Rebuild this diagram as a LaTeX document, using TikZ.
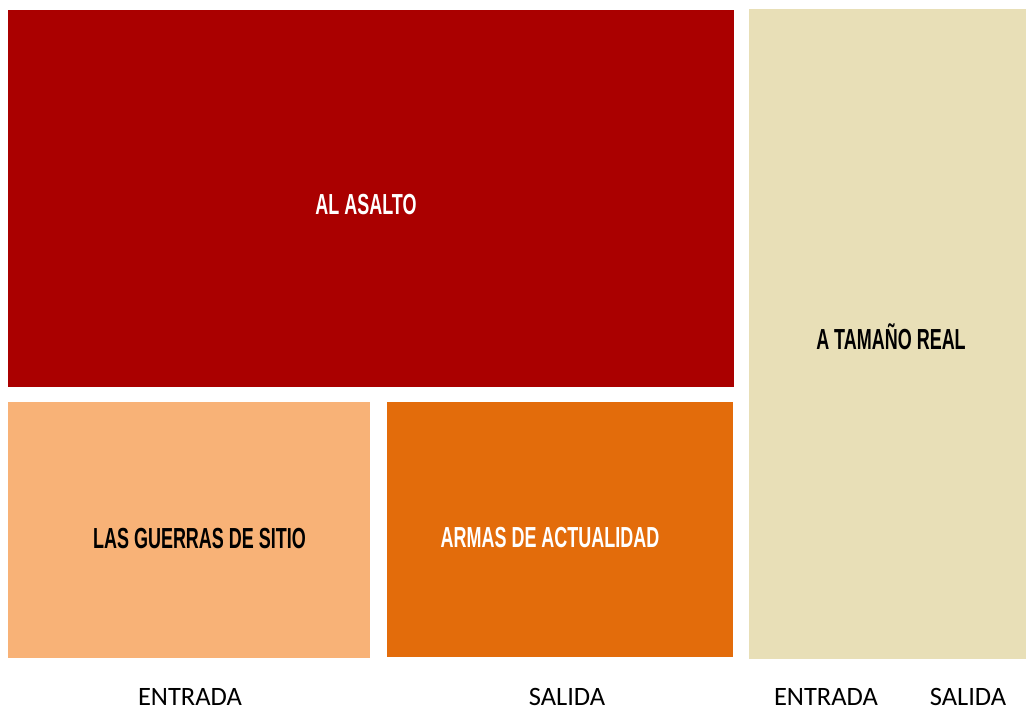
\documentclass[tikz,border=0pt]{standalone}
\usepackage{fontspec}
\setmainfont{Carlito}
\newfontfamily\titlefont[FakeStretch=0.62]{Liberation Sans}
\definecolor{cRed}{HTML}{AA0000}
\definecolor{cBeige}{HTML}{E8DFB7}
\definecolor{cLight}{HTML}{F8B277}
\definecolor{cOrange}{HTML}{E36C0B}
\tikzset{
  title/.style={anchor=base, inner sep=0pt, font=\titlefont\bfseries\fontsize{29}{29}\selectfont},
  axis/.style={anchor=base, inner sep=0pt, text depth=0pt, font=\fontsize{26.5}{26.5}\selectfont, text=black}
}
\begin{document}
\begin{tikzpicture}[x=1pt,y=-1pt]
\useasboundingbox[fill=white] (0,0) rectangle (1026,709);
\fill[cRed] (8,10) rectangle (734,387);
\fill[cBeige] (749,9) rectangle (1026,659);
\fill[cLight] (8,402) rectangle (370,658);
\fill[cOrange] (387,402) rectangle (733,657);
\node[title, text=white] (asalto) at (366,214) {AL ASALTO};
\node[title, text=black] (tamano) at (891,349) {A TAMAÑO REAL};
\node[title, text=black] (guerras) at (199.5,548) {LAS GUERRAS DE SITIO};
\node[title, text=white] (armas) at (550,547) {ARMAS DE ACTUALIDAD};
\node[axis] (e1) at (190,705) {ENTRADA};
\node[axis] (s1) at (567,705) {SALIDA};
\node[axis] (e2) at (826,705) {ENTRADA};
\node[axis] (s2) at (968,705) {SALIDA};
\end{tikzpicture}
\end{document}
